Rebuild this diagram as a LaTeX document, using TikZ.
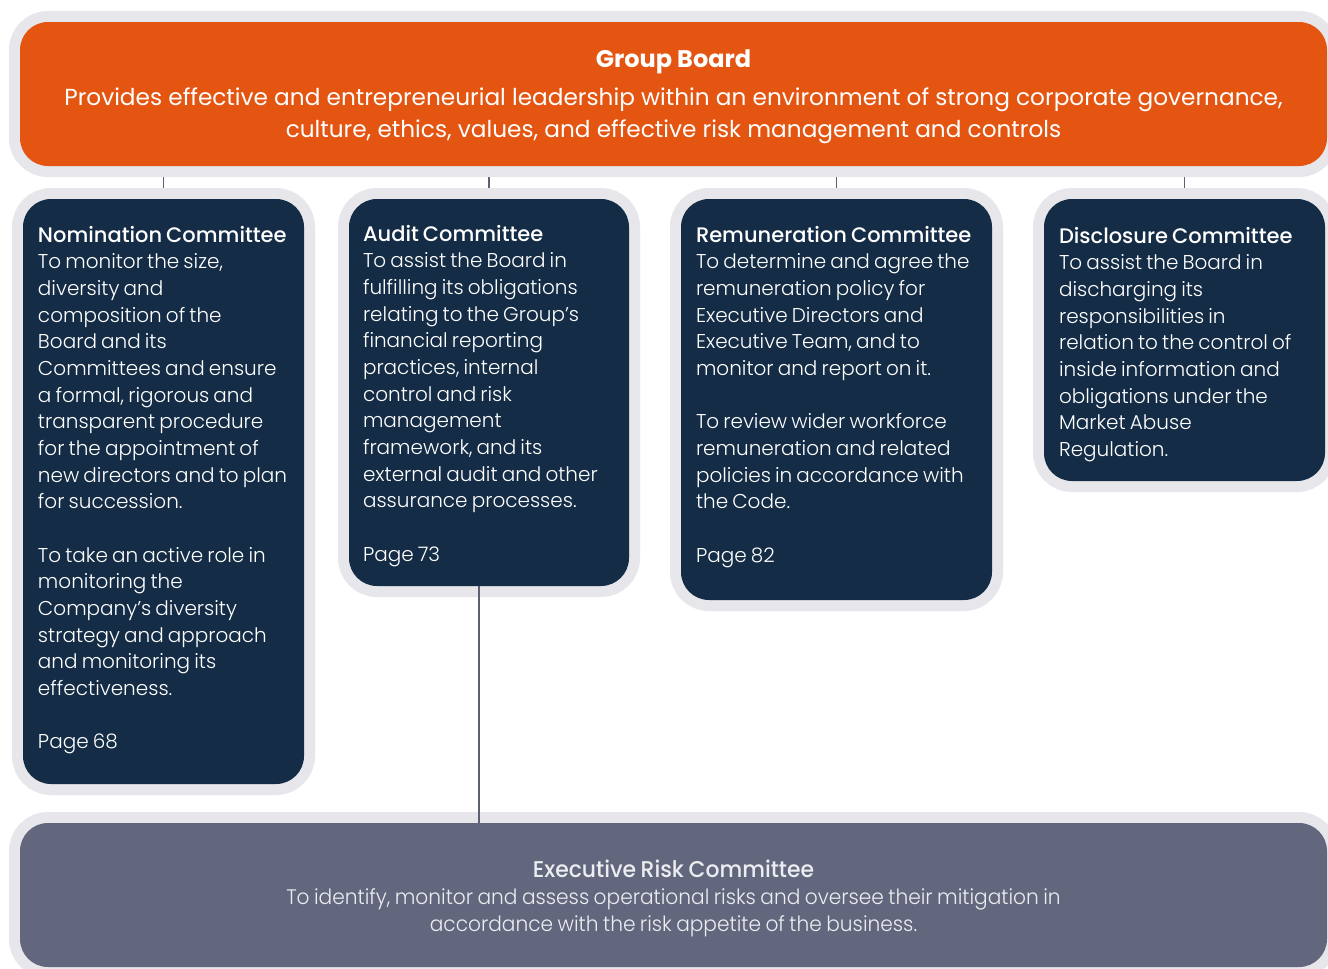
\documentclass[tikz,border=0pt]{standalone}
\usepackage{fontspec}
\setmainfont{Poppins}[UprightFont=* Light, BoldFont=* Medium, WordSpace=0.75]
\newfontfamily\boardfont{Poppins}
\newfontfamily\riskfont{Poppins}[UprightFont=* Light, BoldFont=* Medium, FakeStretch=0.96, WordSpace=0.8]
\usetikzlibrary{calc,fit,backgrounds}
\definecolor{brand}{HTML}{E55512}
\definecolor{navy}{HTML}{142C45}
\definecolor{slate}{HTML}{63677D}
\definecolor{rim}{HTML}{E7E6EB}
\definecolor{wirecol}{HTML}{5B6073}
\definecolor{riskink}{HTML}{ECEDF1}
\newcommand\comhead[1]{{\fontsize{10.5}{13.33}\selectfont\bfseries #1}}
\tikzset{
  boxbase/.style  = {inner sep=0pt, rounded corners=14pt, preaction={draw=rim, line width=11pt}},
  boardbox/.style = {boxbase, fill=brand},
  combox/.style   = {boxbase, fill=navy},
  riskbox/.style  = {boxbase, fill=slate},
  wire/.style     = {draw=wirecol, line width=0.75pt},
  boardtxt/.style = {font=\boardfont\fontsize{11.6}{16}\selectfont, text=white, align=center, inner sep=0pt},
  comtxt/.style   = {font=\fontsize{10}{13.33}\selectfont, text=white, align=left, anchor=north west, inner sep=0pt},
  risktxt/.style  = {font=\riskfont\fontsize{10.5}{13.5}\selectfont, text=riskink, align=center, inner sep=0pt},
}

\begin{document}
\begin{tikzpicture}[x=0.5pt,y=-0.5pt]
\path[use as bounding box] (0,0) rectangle (1328,969);

% ---- boxes --------------------------------------------------------------
\node[boardbox, fit={(20,22) (1327,166)}] (board) {};
\node[combox,   fit={(23,199) (304,784)}]   (nom)   {};
\node[combox,   fit={(349,199) (629,586)}]  (audit) {};
\node[combox,   fit={(681,199) (992,600)}]  (rem)   {};
\node[combox,   fit={(1044,199) (1325,481)}] (disc) {};
\node[riskbox,  fit={(20,823) (1327,967)}]  (risk)  {};

% ---- texts --------------------------------------------------------------
\node[boardtxt] (boardtext) at ($(board.center)+(0,3)$) {%
  {\fontsize{12}{16}\selectfont\bfseries Group Board}\\[3pt]
  Provides effective and entrepreneurial leadership within an environment of strong corporate governance,\\
  culture, ethics, values, and effective risk management and controls};

\node[comtxt] (nomtext) at ($(nom.north west)+(15,27)$) {%
  \comhead{Nomination Committee}\\
  To monitor the size,\\
  diversity and\\
  composition of the\\
  Board and its\\
  Committees and ensure\\
  a formal, rigorous and\\
  transparent procedure\\
  for the appointment of\\
  new directors and to plan\\
  for succession.\\[13.33pt]
  To take an active role in\\
  monitoring the\\
  Company’s diversity\\
  strategy and approach\\
  and monitoring its\\
  effectiveness.\\[13.33pt]
  Page 68};

\node[comtxt] (audittext) at ($(audit.north west)+(14,26)$) {%
  \comhead{Audit Committee}\\
  To assist the Board in\\
  fulfilling its obligations\\
  relating to the Group’s\\
  financial reporting\\
  practices, internal\\
  control and risk\\
  management\\
  framework, and its\\
  external audit and other\\
  assurance processes.\\[13.33pt]
  Page 73};

\node[comtxt] (remtext) at ($(rem.north west)+(15,27)$) {%
  \comhead{Remuneration Committee}\\
  To determine and agree the\\
  remuneration policy for\\
  Executive Directors and\\
  Executive Team, and to\\
  monitor and report on it.\\[13.33pt]
  To review wider workforce\\
  remuneration and related\\
  policies in accordance with\\
  the Code.\\[13.33pt]
  Page 82};

\node[comtxt] (disctext) at ($(disc.north west)+(15,28)$) {%
  \comhead{Disclosure Committee}\\
  To assist the Board in\\
  discharging its\\
  responsibilities in\\
  relation to the control of\\
  inside information and\\
  obligations under the\\
  Market Abuse\\
  Regulation.};

\node[risktxt] (risktext) at ($(risk.center)+(0,3)$) {%
  {\fontsize{11.4}{13.5}\selectfont\bfseries Executive Risk Committee}\\
  To identify, monitor and assess operational risks and oversee their mitigation in\\
  accordance with the risk appetite of the business.};

% ---- links --------------------------------------------------------------
% board to committees: drawn underneath, only the gap between the rims shows
\begin{scope}[on background layer]
  \fill[white] (0,0) rectangle (1328,969);
  \foreach \c in {nom,audit,rem,disc}
    \draw[wire] (board.south -| \c.north) -- (\c.north);
\end{scope}

% audit down to the risk committee, off-centre and over the rims
\coordinate (auditdrop) at (479,0);
\draw[wire] (audit.south -| auditdrop) -- (risk.north -| auditdrop);

\end{tikzpicture}
\end{document}
